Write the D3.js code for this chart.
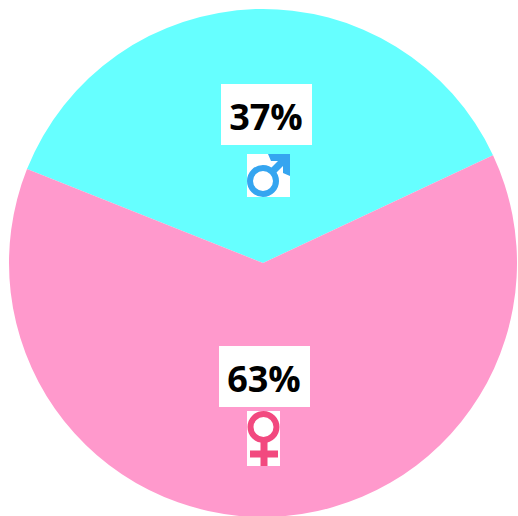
<!DOCTYPE html>
<html lang="en">
<head>
    <meta charset="utf-8" />
    <title>Gender split</title>
    <script src="https://d3js.org/d3.v7.min.js"></script>
    <style>
        html, body { margin: 0; padding: 0; background: #fff; }
        svg { display: block; }
        .pct { font-family: "Open Sans", sans-serif; font-weight: 700; font-size: 36px; fill: #000; text-anchor: middle; }
    </style>
</head>
<body>
    <script>
        var categories = ["male", "female"];
        var shares = [37, 63];
        var labels = ["37%", "63%"];
        var colors = ["#66ffff", "#ff99cc"];

        var width = 518, height = 516;
        var cx = 263, cy = 263, radius = 254;

        var svg = d3.select("body").append("svg")
            .attr("width", width)
            .attr("height", height);

        var pie = d3.pie().sort(null)
            .startAngle(-68.3 * Math.PI / 180)
            .endAngle(291.7 * Math.PI / 180);
        var arc = d3.arc().innerRadius(0).outerRadius(radius);

        var chart = svg.append("g").attr("transform", "translate(" + cx + "," + cy + ")");

        chart.selectAll("path")
            .data(pie(shares))
            .enter().append("path")
            .attr("d", arc)
            .attr("fill", function (d, i) { return colors[i]; });

        // label boxes, relative to the pie centre
        var boxes = [
            { x: -42, y: -179, w: 91, h: 61, tx: 3, ty: -133 },
            { x: -44, y: 83, w: 91, h: 61, tx: 1, ty: 129 }
        ];

        chart.selectAll("rect.box")
            .data(boxes)
            .enter().append("rect")
            .attr("class", "box")
            .attr("x", function (d) { return d.x; })
            .attr("y", function (d) { return d.y; })
            .attr("width", function (d) { return d.w; })
            .attr("height", function (d) { return d.h; })
            .attr("fill", "#fff");

        chart.selectAll("text.pct")
            .data(labels)
            .enter().append("text")
            .attr("class", "pct")
            .attr("x", function (d, i) { return boxes[i].tx; })
            .attr("y", function (d, i) { return boxes[i].ty; })
            .text(function (d) { return d; });

        // male symbol
        var male = chart.append("g").attr("transform", "translate(-16,-109)");
        male.append("rect").attr("width", 43).attr("height", 43).attr("fill", "#fff");
        male.append("circle").attr("cx", 16).attr("cy", 27).attr("r", 13)
            .attr("fill", "none").attr("stroke", "#35a5f0").attr("stroke-width", 6);
        male.append("path").attr("d", "M25 18L36 7").attr("stroke", "#35a5f0").attr("stroke-width", 7);
        male.append("path").attr("d", "M21 0H43V22L36 19V7H24Z").attr("fill", "#35a5f0");

        // female symbol
        var female = chart.append("g").attr("transform", "translate(-16,148)");
        female.append("rect").attr("width", 33).attr("height", 55).attr("fill", "#fff");
        female.append("circle").attr("cx", 16.5).attr("cy", 16).attr("r", 13)
            .attr("fill", "none").attr("stroke", "#f2497f").attr("stroke-width", 6);
        female.append("path").attr("d", "M17 31V55M3 43H31").attr("fill", "none")
            .attr("stroke", "#f2497f").attr("stroke-width", 7);
    </script>
</body>
</html>
